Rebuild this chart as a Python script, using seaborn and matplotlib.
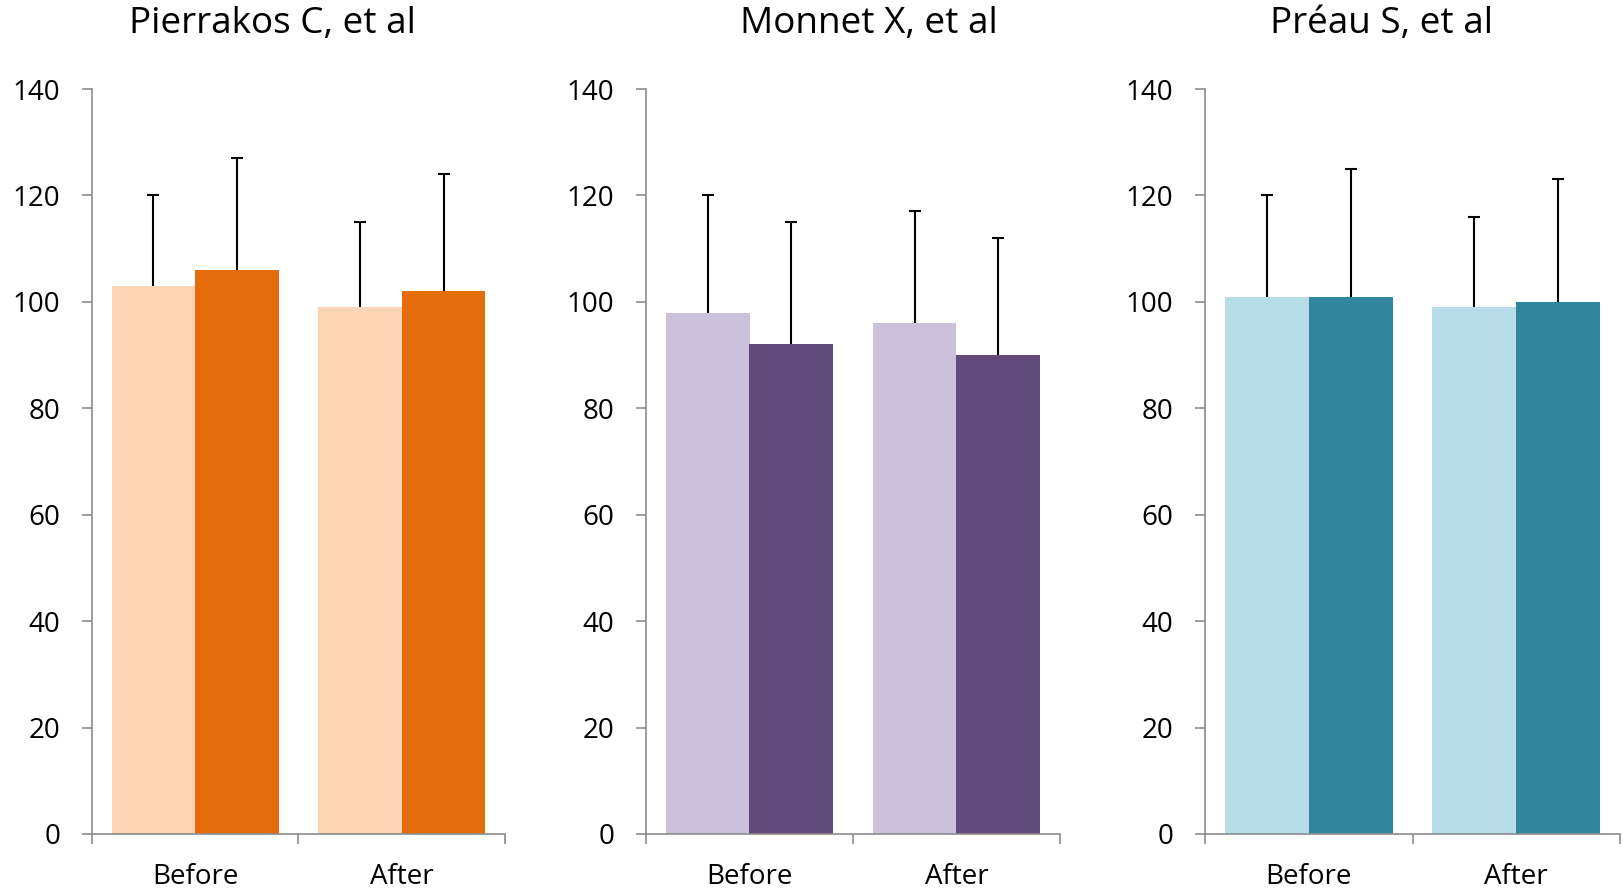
import numpy as np
import pandas as pd
import matplotlib
matplotlib.use("Agg")
import matplotlib.pyplot as plt
from matplotlib.container import BarContainer
import seaborn as sns

# ---- data ----
titles = ["Pierrakos C, et al", "Monnet X, et al", "Préau S, et al"]
categories = ["Before", "After"]
groups = ["Group 1", "Group 2"]

pierrakos_g1 = [103, 99]
pierrakos_g2 = [106, 102]
pierrakos_g1_upper = [120, 115]
pierrakos_g2_upper = [127, 124]

monnet_g1 = [98, 96]
monnet_g2 = [92, 90]
monnet_g1_upper = [120, 117]
monnet_g2_upper = [115, 112]

preau_g1 = [101, 99]
preau_g2 = [101, 100]
preau_g1_upper = [120, 116]
preau_g2_upper = [125, 123]

yticks = [0, 20, 40, 60, 80, 100, 120, 140]

palettes = [
    ["#FBD5B5", "#E46C0A"],
    ["#CCC1DA", "#604A7B"],
    ["#B7DEE8", "#31859C"],
]

panels = [
    (pierrakos_g1, pierrakos_g2, pierrakos_g1_upper, pierrakos_g2_upper),
    (monnet_g1, monnet_g2, monnet_g1_upper, monnet_g2_upper),
    (preau_g1, preau_g2, preau_g1_upper, preau_g2_upper),
]

sns.set_theme(style="white")
plt.rcParams["font.family"] = ["Open Sans", "DejaVu Sans"]

W, H = 1624, 894
fig = plt.figure(figsize=(W / 100, H / 100), dpi=100)

axes_px = [(92, 505), (646, 1060), (1205, 1620)]
top_px, bottom_px = 89, 834
title_centers_px = [272, 869, 1382]
spine_color = "#8C8C8C"

for i, (g1, g2, u1, u2) in enumerate(panels):
    l, r = axes_px[i]
    ax = fig.add_axes([l / W, (H - bottom_px) / H, (r - l) / W, (bottom_px - top_px) / H])
    df = pd.DataFrame({
        "category": categories * 2,
        "group": [groups[0]] * 2 + [groups[1]] * 2,
        "value": g1 + g2,
    })
    sns.barplot(data=df, x="category", y="value", hue="group", order=categories,
                hue_order=groups, palette=palettes[i], width=0.81, errorbar=None,
                saturation=1, linewidth=0, legend=False, ax=ax)
    uppers = [u1, u2]
    means = [g1, g2]
    bar_conts = [c for c in ax.containers if isinstance(c, BarContainer)]
    for k, cont in enumerate(bar_conts):
        for j, bar in enumerate(cont.patches):
            bar.set_zorder(2)
            xc = bar.get_x() + bar.get_width() / 2
            eb = ax.errorbar(xc, means[k][j], yerr=[[0], [uppers[k][j] - means[k][j]]],
                             fmt="none", ecolor="black", elinewidth=1.5, capsize=4.5,
                             capthick=1.5, zorder=1)
            caps = eb.lines[1]
            for cap in caps:
                yd = np.asarray(cap.get_ydata(), dtype=float)
                if np.allclose(yd, means[k][j]):
                    cap.set_visible(False)
    ax.set_xlim(-0.5, 1.5)
    ax.set_ylim(0, 140)
    ax.set_yticks(yticks)
    ax.set_yticklabels([str(t) for t in yticks])
    ax.set_xticks([0, 1])
    ax.set_xticklabels(categories)
    ax.set_xticks([-0.5, 0.5, 1.5], minor=True)
    ax.tick_params(axis="x", which="major", length=0, pad=21, labelsize=20, colors="black")
    ax.tick_params(axis="x", which="minor", bottom=True, length=7, width=1.2, color=spine_color, direction="out")
    ax.tick_params(axis="y", which="major", left=True, length=7, width=1.2, color=spine_color,
                   direction="out", pad=16, labelsize=20, labelcolor="black")
    for s in ["top", "right"]:
        ax.spines[s].set_visible(False)
    for s in ["left", "bottom"]:
        ax.spines[s].set_color(spine_color)
        ax.spines[s].set_linewidth(1.2)
    ax.set_xlabel("")
    ax.set_ylabel("")
    ax.set_facecolor("white")
    fig.text(title_centers_px[i] / W, 1 - 24 / H, titles[i], ha="center", va="center",
             fontsize=26.6, color="black")

fig.savefig("out.png", dpi=100, facecolor="white")
